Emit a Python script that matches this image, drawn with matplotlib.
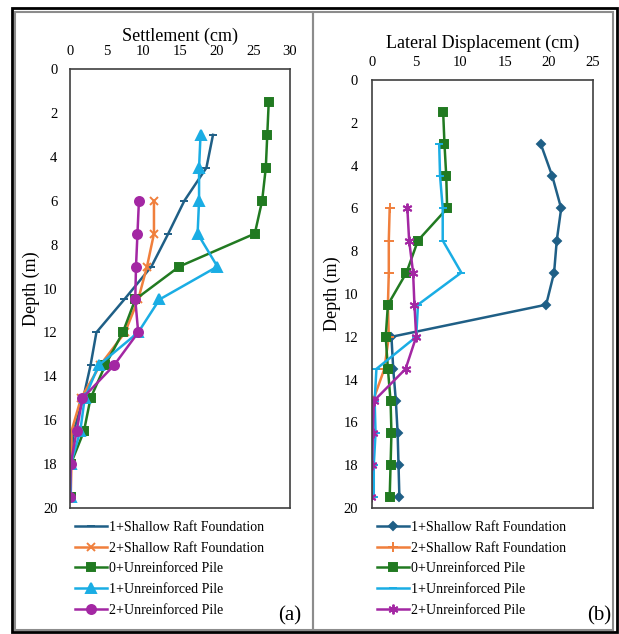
import matplotlib.pyplot as plt
from matplotlib.patches import Rectangle

plt.rcParams['font.family'] = ['Liberation Serif', 'DejaVu Serif']

depth = [1.5, 3, 4.5, 6, 7.5, 9, 10.5, 12, 13.5, 15, 16.5, 18, 19.5]

labels = ['1+Shallow Raft Foundation', '2+Shallow Raft Foundation',
          '0+Unreinforced Pile', '1+Unreinforced Pile', '2+Unreinforced Pile']
colors = ['#1F5F86', '#F07F3C', '#217A21', '#1AADE4', '#A327A3']

# settlement (cm), None = no reading at that depth
settle_raft1 = [None, 19.5, 18.6, 15.6, 13.4, 11.1, 7.4, 3.6, 2.8, 1.8, 0.5, 0.1, 0.0]
settle_raft2 = [None, None, None, 11.45, 11.45, 10.5, 9.3, 7.5, 4.1, 1.5, 0.2, 0.2, 0.1]
settle_pile0 = [27.1, 26.9, 26.7, 26.2, 25.2, 14.9, 8.9, 7.2, 4.8, 2.8, 1.9, 0.1, 0.1]
settle_pile1 = [None, 17.8, 17.6, 17.6, 17.4, 20.1, 12.2, 9.3, 3.9, 2.0, 1.4, 0.1, 0.1]
settle_pile2 = [None, None, None, 9.4, 9.2, 9.0, 8.9, 9.3, 6.0, 1.7, 0.9, 0.1, 0.0]

# lateral displacement (cm)
lat_raft1 = [None, 19.1, 20.4, 21.4, 20.9, 20.6, 19.7, 2.2, 2.4, 2.7, 2.9, 3.0, 3.1]
lat_raft2 = [None, None, None, 2.0, 1.9, 1.9, 1.8, 1.9, 1.4, 0.1, 0.0, 0.0, 0.0]
lat_pile0 = [8.05, 8.2, 8.4, 8.5, 5.2, 3.9, 1.8, 1.55, 1.8, 2.1, 2.2, 2.1, 2.0]
lat_pile1 = [None, 7.6, 7.7, 8.0, 8.0, 10.1, 5.2, 5.0, 0.5, 0.3, 0.4, 0.2, 0.2]
lat_pile2 = [None, None, None, 4.0, 4.2, 4.65, 4.8, 5.0, 3.8, 0.2, 0.1, 0.0, -0.1]

settle = [settle_raft1, settle_raft2, settle_pile0, settle_pile1, settle_pile2]
lateral = [lat_raft1, lat_raft2, lat_pile0, lat_pile1, lat_pile2]

markers_a = [('_', 6), ('x', 6), ('s', 6), ('^', 6.5), ('o', 6.5)]
markers_b = [('D', 4.5), ('+', 7), ('s', 6), ('_', 6), ((6, 2, 0), 7)]


def strip(vals):
    xs, ys = [], []
    for v, d in zip(vals, depth):
        if v is not None:
            xs.append(v)
            ys.append(d)
    return xs, ys


def draw_panel(ax, series, markers, xmax, xlabel, labelpad, ypad):
    for vals, col, (m, ms), lab in zip(series, colors, markers, labels):
        xs, ys = strip(vals)
        ax.plot(xs, ys, color=col, lw=1.8, marker=m, markersize=ms,
                markeredgewidth=1.4, label=lab)
    ax.set_xlim(0, xmax)
    ax.set_ylim(20, 0)
    ax.set_xticks(range(0, xmax + 1, 5))
    ax.set_yticks(range(0, 21, 2))
    ax.xaxis.tick_top()
    ax.xaxis.set_label_position('top')
    ax.set_xlabel(xlabel, fontsize=13, labelpad=labelpad)
    ax.set_ylabel('Depth (m)', fontsize=13, labelpad=2)
    ax.tick_params(axis='x', length=0, pad=8, labelsize=10.5)
    ax.tick_params(axis='y', length=0, pad=ypad, labelsize=10.5)
    for sp in ax.spines.values():
        sp.set_color('#404040')
        sp.set_linewidth(1.2)


W, H = 619, 634
fig = plt.figure(figsize=(W / 100, H / 100), dpi=100)


def fx(px):
    return px / W


def fy(py):
    return 1 - py / H


ax1 = fig.add_axes([fx(70), fy(508), fx(220), 439 / H])
ax2 = fig.add_axes([fx(372), fy(508), fx(221), 428 / H])

draw_panel(ax1, settle, markers_a, 30, 'Settlement (cm)', 3, 9)
draw_panel(ax2, lateral, markers_b, 25, 'Lateral Displacement (cm)', 6, 10)

for ax, x0 in [(ax1, 75), (ax2, 377)]:
    ax.legend(loc='upper left', bbox_to_anchor=(fx(x0), fy(521)),
              bbox_transform=fig.transFigure, frameon=False, fontsize=10,
              handlelength=2.3, handletextpad=0.15, labelspacing=0.55,
              borderpad=0, borderaxespad=0)

fig.text(fx(290), fy(616), '(a)', fontsize=15, ha='center', va='center')
fig.text(fx(599), fy(616), '(b)', fontsize=15, ha='center', va='center')

# panel frames
fig.patches.append(Rectangle((fx(15), fy(630)), fx(298), (618) / H,
                             transform=fig.transFigure, fill=False,
                             edgecolor='#8c8c8c', lw=1.5))
fig.patches.append(Rectangle((fx(313), fy(630)), fx(300), (618) / H,
                             transform=fig.transFigure, fill=False,
                             edgecolor='#8c8c8c', lw=1.5))
fig.patches.append(Rectangle((fx(12), fy(632)), fx(605), (624) / H,
                             transform=fig.transFigure, fill=False,
                             edgecolor='black', lw=2))

fig.savefig('out.png', dpi=100)
